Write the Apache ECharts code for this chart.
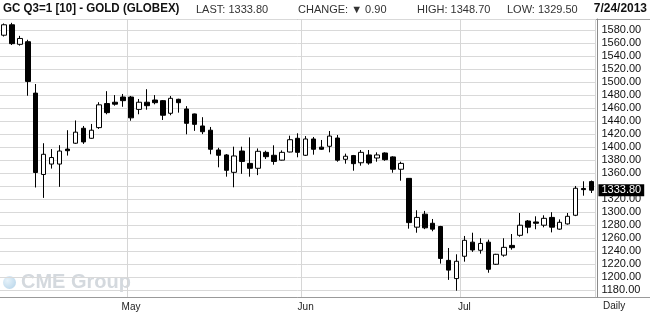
<!DOCTYPE html>
<html><head><meta charset="utf-8">
<script src="https://cdn.jsdelivr.net/npm/echarts@6/dist/echarts.min.js"></script>
<style>html,body{margin:0;padding:0;background:#fff}#c{width:650px;height:314px}</style>
</head><body><div id="c"></div><script>
// ---- data ----
const dates = [
 '2013-04-09','2013-04-10','2013-04-11','2013-04-12','2013-04-15','2013-04-16','2013-04-17','2013-04-18','2013-04-19','2013-04-22','2013-04-23','2013-04-24','2013-04-25','2013-04-26','2013-04-29','2013-04-30',
 '2013-05-01','2013-05-02','2013-05-03','2013-05-06','2013-05-07','2013-05-08','2013-05-09','2013-05-10','2013-05-13','2013-05-14','2013-05-15','2013-05-16','2013-05-17','2013-05-20','2013-05-21','2013-05-22','2013-05-23','2013-05-24','2013-05-28','2013-05-29','2013-05-30','2013-05-31',
 '2013-06-03','2013-06-04','2013-06-05','2013-06-06','2013-06-07','2013-06-10','2013-06-11','2013-06-12','2013-06-13','2013-06-14','2013-06-17','2013-06-18','2013-06-19','2013-06-20','2013-06-21','2013-06-24','2013-06-25','2013-06-26','2013-06-27','2013-06-28',
 '2013-07-01','2013-07-02','2013-07-03','2013-07-05','2013-07-08','2013-07-09','2013-07-10','2013-07-11','2013-07-12','2013-07-15','2013-07-16','2013-07-17','2013-07-18','2013-07-19','2013-07-22','2013-07-23','2013-07-24'
];
const opens = [
 1572,
 1588,1558,1562,1483,1358,1374,1374,1397,1406,1429,1413.6,1430,1467,1469,1477,
 1477,1458,1469,1472.4,1471.4,1452,1473.5,1458.6,1451,1432.5,1426,1395.6,1388,1361.3,1394,1375,1367.5,1392,1387.5,1380,1392.5,1413.6,
 1387.5,1412.5,1400,1401.3,1414,1381.3,1387,1376,1388,1383.3,1391,1385,1366,1352,1277,1297,1283,1278,1226,1198,
 1232.3,1254,1241.5,1254,1220,1234,1249,1264.5,1286.5,1285,1280,1292,1274,1282,1295.3,1336.5,1347
];
const closes = [
 1588,
 1559,1567,1501,1361,1389,1384,1394,1394.5,1423,1408,1426,1465,1453,1466,1471.4,
 1445,1469,1463.7,1468.3,1449,1475,1468.3,1436.6,1435,1423.7,1396.7,1387.5,1364.4,1386.4,1378,1367.5,1393.6,1385.3,1378,1392,1411.4,1392,
 1412.5,1396.7,1396.7,1417,1380,1386,1374.6,1392,1375.6,1388,1380.7,1366,1375,1284,1292,1276,1274,1229,1211,1224.6,
 1256.8,1242,1252,1212.3,1235.3,1246,1245.5,1280,1277,1283,1290.6,1277,1284.5,1293.7,1336.8,1334.7,1333.8
];
const lows = [
 1570,
 1557,1556,1479,1338,1322,1367,1339,1387,1405,1405,1413,1428,1450.5,1463.7,1462,
 1440.6,1450.5,1457.5,1465.8,1441.7,1449,1453,1419.7,1425,1420,1389,1369,1354.6,1338.3,1359,1354.6,1357,1381.8,1373,1379.5,1392,1384.4,
 1386.4,1388.4,1395.6,1392,1377.6,1374.6,1363.8,1371.5,1373,1377.6,1379,1360.7,1348.4,1274.7,1268.5,1274,1270.7,1221,1196,1179.4,
 1224,1239,1236.3,1207,1219,1231.6,1242.4,1262.4,1267.6,1273.8,1276.8,1269,1273,1281,1294,1325.4,1329.5
];
const highs = [
 1590,
 1591,1571,1565,1497,1406,1397,1403,1426,1441,1432.5,1435.6,1469,1486,1480,1481.7,
 1478.6,1474,1489,1480,1472.4,1478.6,1474.4,1463,1451.5,1446,1431,1399,1389.4,1400.7,1400.7,1415,1398,1394.5,1402.8,1395,1417.6,1421.3,
 1417,1415.6,1411,1424.8,1418.7,1390,1388,1395.6,1395.6,1392,1392,1386,1377.6,1352.5,1303,1302,1289.6,1279,1245,1235.3,
 1263.5,1268.5,1260,1257.8,1236,1260,1266.5,1298.8,1288,1293.7,1295.3,1300,1289,1298.8,1340.3,1347.5,1348.7
];
const monthNames = ['Jan','Feb','Mar','Apr','May','Jun','Jul','Aug','Sep','Oct','Nov','Dec'];
const yMin = 1169.7, yMax = 1596.9, yStep = 20;
const titleText = 'GC Q3=1 [10] - GOLD (GLOBEX)';
const dateText = '7/24/2013';
const periodText = 'Daily';
const watermarkText = 'CME Group';

// ---- derived ----
const n = closes.length;
const lastClose = closes[n - 1];
const change = lastClose - closes[n - 2];
const ohlc = opens.map((o, i) => [o, closes[i], lows[i], highs[i]]);
const isMonthStart = i => i > 0 && dates[i].slice(5, 7) !== dates[i - 1].slice(5, 7);

const chart = echarts.init(document.getElementById('c'), null, {renderer: 'canvas'});
const F = '"Liberation Sans", Arial, sans-serif';
const BOLD = 'bold 13px "Liberation Sans", Arial, sans-serif';
chart.setOption({
  animation: false,
  backgroundColor: '#fff',
  grid: {left: -4.55, width: 600, top: 19, bottom: 17, containLabel: false},
  xAxis: {
    type: 'category', data: dates, boundaryGap: true,
    axisLine: {show: true, lineStyle: {color: '#9a9a9a', width: 1}},
    axisTick: {show: false},
    axisLabel: {
      interval: (i) => isMonthStart(i),
      formatter: (v) => monthNames[+v.slice(5, 7) - 1],
      fontFamily: F, fontSize: 10, color: '#222', margin: 5
    },
    splitLine: {show: true, interval: (i) => isMonthStart(i), lineStyle: {color: '#d6d6d6', width: 1}}
  },
  yAxis: [{
    type: 'value', position: 'right', min: yMin, max: yMax, splitNumber: 22,
    minInterval: yStep, maxInterval: yStep, offset: 2, scale: true,
    axisLine: {show: true, lineStyle: {color: '#8a8a8a', width: 1}},
    axisTick: {show: false},
    axisLabel: {
      fontFamily: F, fontSize: 11, color: '#111', margin: 4,
      showMinLabel: false, showMaxLabel: false,
      formatter: (v) => (Math.abs(v / yStep - Math.round(v / yStep)) < 1e-6 && Math.abs(v - lastClose) > 10) ? v.toFixed(2) : ''
    },
    splitLine: {show: true, lineStyle: {color: '#d9d9d9', width: 1}}
  }, {
    type: 'value', position: 'right', min: yMin, max: yMax, offset: 2,
    axisLine: {show: false}, axisTick: {show: false}, splitLine: {show: false},
    axisLabel: {
      customValues: [lastClose], showMinLabel: false, showMaxLabel: false,
      formatter: (v) => v.toFixed(2), fontFamily: F, fontSize: 11, color: '#fff',
      backgroundColor: '#000', padding: [1, 3, 0, 3], margin: 1
    }
  }],
  series: [{
    type: 'candlestick', data: ohlc, barWidth: 5, clip: true,
    itemStyle: {color: '#fff', color0: '#000', borderColor: '#000', borderColor0: '#000', borderWidth: 1}
  }],
  graphic: [
    {type: 'line', shape: {x1: 0, y1: 19.5, x2: 650, y2: 19.5}, style: {stroke: '#a0a0a0', lineWidth: 1}, silent: true},
    {type: 'line', shape: {x1: 595, y1: 297.5, x2: 650, y2: 297.5}, style: {stroke: '#9a9a9a', lineWidth: 1}, silent: true},
    {type: 'text', x: 3, y: 2, scaleX: 0.89, style: {text: titleText, font: BOLD, fill: '#111'}},
    {type: 'text', x: 196, y: 4, style: {text: 'LAST: ' + lastClose.toFixed(2), font: '11px ' + F, fill: '#333'}},
    {type: 'text', x: 298, y: 4, style: {text: 'CHANGE: ' + (change < 0 ? '\u25BC ' : '\u25B2 ') + Math.abs(change).toFixed(2), font: '11px ' + F, fill: '#333'}},
    {type: 'text', x: 417, y: 4, style: {text: 'HIGH: ' + highs[n - 1].toFixed(2), font: '11px ' + F, fill: '#333'}},
    {type: 'text', x: 507, y: 4, style: {text: 'LOW: ' + lows[n - 1].toFixed(2), font: '11px ' + F, fill: '#333'}},
    {type: 'text', x: 647, y: 2, scaleX: 0.92, style: {text: dateText, font: BOLD, fill: '#111', align: 'right'}},
    {type: 'text', x: 603, y: 301, style: {text: periodText, font: '10px ' + F, fill: '#222'}},
    {type: 'circle', shape: {cx: 9.5, cy: 282.5, r: 6.5}, z: -1,
      style: {fill: new echarts.graphic.RadialGradient(0.35, 0.35, 0.8, [{offset: 0, color: '#e6f2fa'}, {offset: 1, color: '#b9d6ea'}])}, silent: true},
    {type: 'text', x: 21, y: 272, z: -1, style: {text: watermarkText, font: 'bold 20px ' + F, fill: '#d4d9de'}, silent: true}
  ]
});
</script></body></html>
